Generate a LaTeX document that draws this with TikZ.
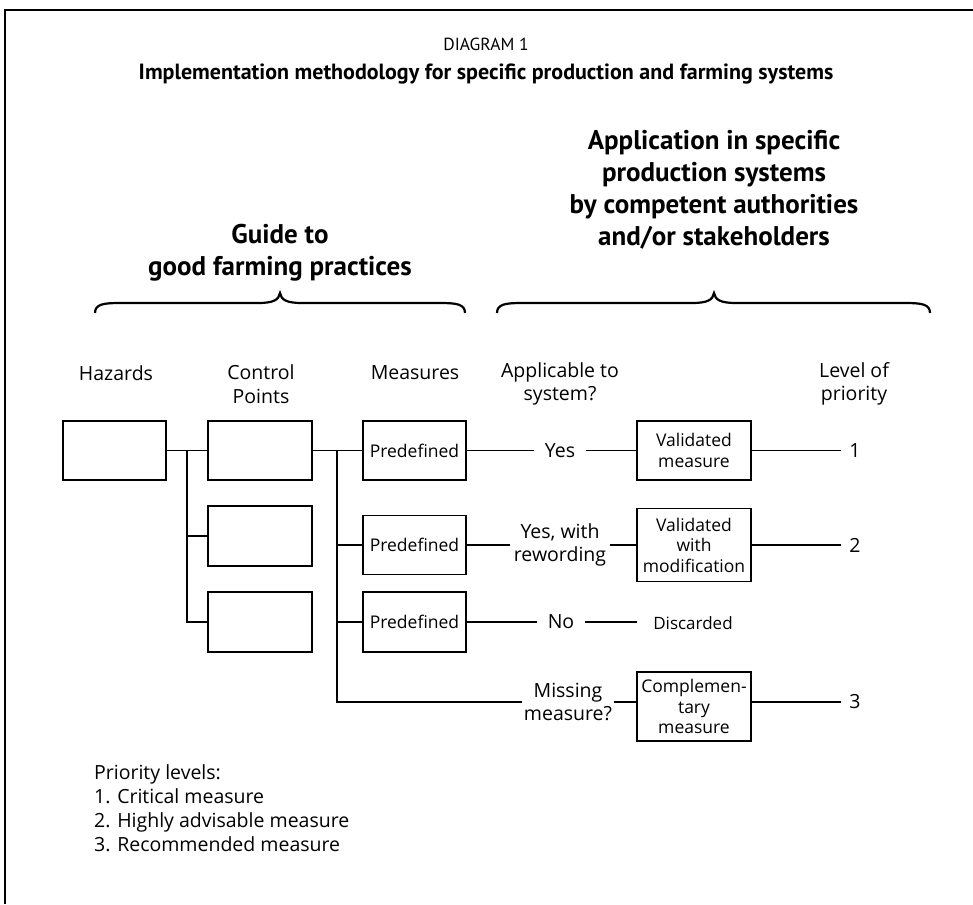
\documentclass[tikz,border=0pt]{standalone}
\usepackage{fontspec}
\setmainfont{Open Sans}
\newfontfamily\condfont{PT Sans}
\begin{document}
\begin{tikzpicture}[x=1pt,y=-1pt,
  box/.style={draw, line width=1.4pt, minimum width=103pt, minimum height=59pt, inner sep=0pt, align=center, font=\fontsize{17.5}{20.5}\selectfont},
  vbox/.style={box, minimum width=114pt},
  hdr/.style={align=center, font=\fontsize{19.5}{23.5}\selectfont},
  lbl/.style={align=center, inner ysep=0pt, font=\fontsize{19.5}{23}\selectfont},
  conn/.style={line width=1.3pt},
  big/.style={align=center, font=\condfont\fontsize{27}{32}\selectfont\bfseries},
  brace/.style={line width=2.2pt}
]
\useasboundingbox (0,0) rectangle (973,904);
\draw[line width=2pt] (973,10) -- (5,10) -- (5,904);

% titles
\node[font=\condfont\fontsize{17.5}{22}\selectfont] (dg) at (486,44) {DIAGRAM 1};
\node[font=\condfont\fontsize{22}{26}\selectfont\bfseries] (tt) at (486,74) {Implementation methodology for specific production and farming systems};

\node[big] (guide) at (280,253) {Guide to\\good farming practices};
\node[big] (appl) at (714,190) {Application in specific\\production systems\\by competent authorities\\and/or stakeholders};

% braces
\draw[brace] (95,313) .. controls (95,304) and (104,303) .. (120,303) -- (258,303)
  .. controls (273,303) and (279,300) .. (280,293)
  .. controls (281,300) and (287,303) .. (302,303) -- (440,303)
  .. controls (456,303) and (465,304) .. (465,313);
\draw[brace] (497,313) .. controls (497,304) and (506,303) .. (522,303) -- (692,303)
  .. controls (707,303) and (713,300) .. (714,293)
  .. controls (715,300) and (721,303) .. (736,303) -- (905,303)
  .. controls (921,303) and (930,304) .. (930,313);

% column headers
\node[hdr] (hz-h) at (116,373) {Hazards};
\node[hdr] (cp-h) at (261,384) {Control\\Points};
\node[hdr] (ms-h) at (415,373) {Measures};
\node[hdr] (ap-h) at (560,384) {Applicable to\\system?};
\node[hdr] (lv-h) at (854,384) {Level of\\priority};

% boxes
\node[box] (hz) at (114.5,450.5) {};
\node[box, minimum width=104pt] (cp1) at (260,450.5) {};
\node[box, minimum width=104pt, minimum height=60pt] (cp2) at (260,536) {};
\node[box, minimum width=104pt, minimum height=60pt] (cp3) at (260,622) {};
\node[box] (pd1) at (414.5,450.5) {Predefined};
\node[box] (pd2) at (414.5,545) {Predefined};
\node[box, minimum height=60pt] (pd3) at (414.5,622) {Predefined};
\node[vbox] (vm) at (694,450.5) {Validated\\measure};
\node[vbox, minimum height=73pt] (vwm) at (694,545) {Validated\\with\\modification};
\node[vbox, minimum height=69pt] (cm) at (694,706.5) {Complemen-\\tary\\measure};

% labels
\node[lbl, inner xsep=11pt] (yes) at (560,450.5) {Yes};
\node[lbl, inner xsep=4pt] (yesw) at (560,545) {Yes, with\\rewording};
\node[lbl, inner xsep=11pt] (no) at (561,622) {No};
\node[lbl, font=\fontsize{17}{20}\selectfont, inner xsep=16pt] (disc) at (693,623) {Discarded};
\node[lbl, inner xsep=2pt] (miss) at (568,702) {Missing\\measure?};
\node[lbl, inner xsep=8pt] (n1) at (855,450.5) {1};
\node[lbl, inner xsep=8pt] (n2) at (855,545) {2};
\node[lbl, inner xsep=8pt] (n3) at (855,702) {3};

% connectors
\coordinate (j1) at (187,450.5);
\coordinate (j2) at (337,450.5);
\draw[conn] (hz.east) -- (cp1.west);
\draw[conn] (j1) |- (cp2.west);
\draw[conn] (j1) |- (cp3.west);
\draw[conn] (cp1.east) -- (pd1.west);
\draw[conn] (j2) |- (pd2.west);
\draw[conn] (j2) |- (pd3.west);
\draw[conn] (j2) |- (miss.west);
\draw[conn] (pd1.east) -- (yes.west);
\draw[conn] (yes.east) -- (vm.west);
\draw[conn] (vm.east) -- (n1.west);
\draw[conn] (pd2.east) -- (yesw.west);
\draw[conn] (yesw.east) -- (vwm.west);
\draw[conn] (vwm.east) -- (n2.west);
\draw[conn] (pd3.east) -- (no.west);
\draw[conn] (no.east) -- (no.east -| disc.west);
\draw[conn] (miss.east) -- (miss.east -| cm.west);
\draw[conn] (cm.east |- n3.west) -- (n3.west);

% legend
\node[anchor=north west, align=left, inner sep=0pt, font=\fontsize{19.5}{24}\selectfont] (leg) at (94,764) {Priority levels:\\1. Critical measure\\2. Highly advisable measure\\3. Recommended measure};
\end{tikzpicture}
\end{document}
